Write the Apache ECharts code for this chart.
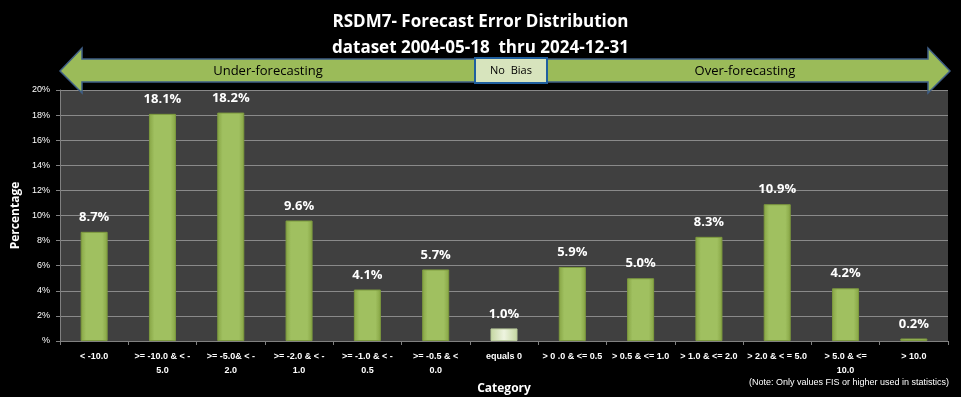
<!DOCTYPE html>
<html lang="en">
<head>
    <meta charset="UTF-8">
    <title>RSDM7 Forecast Error Distribution</title>
    <script src="https://cdn.jsdelivr.net/npm/echarts@6/dist/echarts.min.js"></script>
    <style>
        html, body { margin: 0; padding: 0; background: #000; }
        #main { width: 961px; height: 397px; }
    </style>
</head>
<body>
<div id="main"></div>
<script type="text/javascript">
    const categories = [
        '< -10.0',
        '>= -10.0 & < -\n5.0',
        '>= -5.0& < -\n2.0',
        '>= -2.0 & < -\n1.0',
        '>= -1.0 & < -\n0.5',
        '>= -0.5 & <\n0.0',
        'equals 0',
        '> 0 .0 & <= 0.5',
        '> 0.5 & <= 1.0',
        '> 1.0 & <= 2.0',
        '> 2.0 & < = 5.0',
        '> 5.0 & <=\n10.0',
        '> 10.0'
    ]
    const percentages = [8.7, 18.1, 18.2, 9.6, 4.1, 5.7, 1.0, 5.9, 5.0, 8.3, 10.9, 4.2, 0.2]
    const zeroIndex = 6

    const font = 'Liberation Sans'
    const green = {
        type: 'linear', x: 0, y: 0, x2: 1, y2: 0,
        colorStops: [
            { offset: 0, color: '#86a444' },
            { offset: 0.2, color: '#a0c060' },
            { offset: 0.8, color: '#a0c060' },
            { offset: 1, color: '#86a444' }
        ]
    }
    const pale = {
        type: 'linear', x: 0, y: 0, x2: 1, y2: 0,
        colorStops: [
            { offset: 0, color: '#c4d6a0' },
            { offset: 0.5, color: '#eef4e0' },
            { offset: 1, color: '#c4d6a0' }
        ]
    }

    let chart = echarts.init(document.getElementById('main'))
    chart.setOption({
        backgroundColor: '#000',
        animation: false,
        title: {
            text: 'RSDM7- Forecast Error Distribution\ndataset 2004-05-18  thru 2024-12-31',
            left: 'center',
            top: 4,
            textStyle: {
                color: '#fff', fontFamily: 'Open Sans', fontWeight: 'bold',
                fontSize: 17, lineHeight: 26
            }
        },
        grid: {
            left: 60, right: 13, top: 90, bottom: 56,
            outerBoundsMode: 'none', containLabel: false,
            show: true, backgroundColor: '#404040', borderWidth: 0
        },
        graphic: [
            {
                type: 'polygon',
                shape: {
                    points: [[60, 71], [82, 48], [82, 59], [928, 59], [928, 48], [950, 71],
                        [928, 93], [928, 82], [82, 82], [82, 93]]
                },
                style: { fill: '#9bbb59', stroke: '#3f5f86', lineWidth: 1.5 },
                z: 10
            },
            {
                type: 'rect',
                shape: { x: 475, y: 58, width: 72, height: 25 },
                style: { fill: '#d7e4bd', stroke: '#1f5f9f', lineWidth: 2 },
                z: 11
            },
            {
                type: 'text', x: 511, y: 71,
                style: { text: 'No  Bias', fill: '#000', font: '11px "Open Sans"', align: 'center', verticalAlign: 'middle' },
                z: 12
            },
            {
                type: 'text', x: 268, y: 71,
                style: { text: 'Under-forecasting', fill: '#000', font: '13px "Open Sans"', align: 'center', verticalAlign: 'middle' },
                z: 12
            },
            {
                type: 'text', x: 745, y: 71,
                style: { text: 'Over-forecasting', fill: '#000', font: '13px "Open Sans"', align: 'center', verticalAlign: 'middle' },
                z: 12
            },
            {
                type: 'text', right: 12, top: 378,
                style: { text: '(Note: Only values FIS or higher used in statistics)', fill: '#fff', font: '9px "' + font + '"' }
            }
        ],
        xAxis: {
            type: 'category',
            data: categories,
            name: 'Category',
            nameLocation: 'middle',
            nameGap: 40,
            nameTextStyle: { color: '#fff', fontWeight: 'bold', fontSize: 12, fontFamily: 'Open Sans' },
            axisLine: { lineStyle: { color: '#808080' } },
            axisTick: { show: true, alignWithLabel: false, length: 4, lineStyle: { color: '#808080' } },
            axisLabel: {
                color: '#fff', fontWeight: 'bold', fontSize: 9, fontFamily: font,
                lineHeight: 14, margin: 9, interval: 0
            }
        },
        yAxis: {
            type: 'value',
            min: 0, max: 20, interval: 2,
            name: 'Percentage',
            nameLocation: 'middle',
            nameGap: 33,
            nameTextStyle: { color: '#fff', fontWeight: 'bold', fontSize: 12, fontFamily: 'Open Sans' },
            axisLine: { show: true, lineStyle: { color: '#808080' } },
            axisTick: { show: true, length: 4, lineStyle: { color: '#808080' } },
            splitLine: { lineStyle: { color: '#8a8a8a', width: 1 } },
            axisLabel: {
                color: '#fff', fontSize: 9, fontFamily: font, margin: 10,
                formatter: v => v === 0 ? '%' : v + '%'
            }
        },
        series: [{
            type: 'bar',
            barWidth: 27,
            data: percentages.map((v, i) => ({
                value: v,
                itemStyle: {
                    color: i === zeroIndex ? pale : green,
                    borderColor: i === zeroIndex ? '#b8c99a' : '#7d9a3e',
                    borderWidth: 1
                }
            })),
            label: {
                show: true, position: 'top', distance: 8,
                color: '#fff', fontWeight: 'bold', fontSize: 13, fontFamily: 'Open Sans',
                formatter: p => p.value.toFixed(1) + '%'
            }
        }]
    })
</script>
</body>
</html>
